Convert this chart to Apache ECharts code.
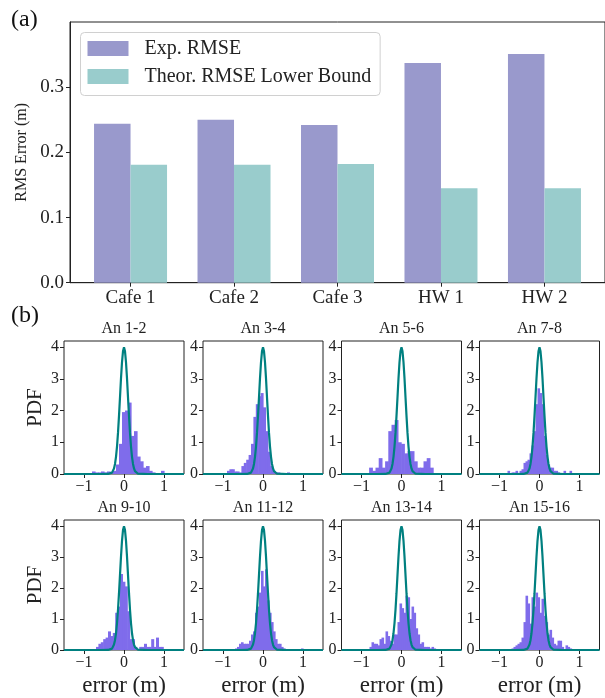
<!DOCTYPE html>
<html><head><meta charset="utf-8">
<script src="https://cdn.jsdelivr.net/npm/echarts@6/dist/echarts.min.js"></script>
<style>html,body{margin:0;padding:0;background:#fff}#c{width:605px;height:698px}</style>
</head><body><div id="c"></div>
<script>
// ---------- data (a) ----------
const categories = ['Cafe 1', 'Cafe 2', 'Cafe 3', 'HW 1', 'HW 2'];
const expRMSE = [0.244, 0.250, 0.242, 0.337, 0.351];
const theorRMSE = [0.181, 0.181, 0.182, 0.145, 0.145];
const rmsTicks = [0, 0.1, 0.2, 0.3];

// ---------- data (b) ----------
const panelTitles = ['An 1-2', 'An 3-4', 'An 5-6', 'An 7-8', 'An 9-10', 'An 11-12', 'An 13-14', 'An 15-16'];
const pdfTicks = [0, 1, 2, 3, 4];
const errorTicks = [-1, 0, 1];
const binStarts = [-0.8, -0.9, -0.81, -0.85, -0.7, -0.7, -0.85, -0.7];
const binWidths = [0.075, 0.06, 0.08, 0.05, 0.06, 0.05, 0.05, 0.05];
const hist12 = [0.08, 0.05, 0.05, 0.08, 0.05, 0.08, 0.05, 0.1, 0.3, 0.95, 1.95, 2.0, 2.25, 1.2, 1.35, 0.55, 0.4, 0.2, 0.25, 0.1, 0.05, 0, 0, 0.1];
const hist34 = [0.1, 0.15, 0.15, 0.08, 0.08, 0.05, 0.25, 0.35, 0.45, 0.6, 0.95, 1.8, 2.2, 2.45, 2.55, 2.1, 1.35, 0.7, 0.25, 0.1, 0.05, 0.05, 0.03, 0, 0, 0.05];
const hist56 = [0.2, 0.1, 0.2, 0.5, 0.2, 0.4, 1.35, 1.55, 1.7, 1.0, 0.95, 0.65, 0.72, 0.72, 0.4, 0.2, 0.2, 0.4, 0.5, 0.2];
const hist78 = [0, 0.1, 0, 0.05, 0.05, 0.1, 0, 0.1, 0.15, 0.35, 0.4, 0.45, 0.65, 0.9, 1.35, 2.2, 2.7, 2.55, 2.2, 1.2, 0.6, 0.3, 0.2, 0.2, 0.1, 0.1, 0.05, 0, 0, 0.1, 0, 0, 0.1];
const hist910 = [0.1, 0.2, 0.25, 0.35, 0.4, 0.6, 0.45, 0.55, 1.2, 1.4, 2.45, 2.2, 2.05, 1.25, 0.35, 0.35, 0.1, 0, 0.1, 0.1, 0.2, 0.1, 0.1, 0.35, 0.1, 0.4, 0.1, 0.1];
const hist1112 = [0.05, 0.1, 0.2, 0.25, 0.2, 0.2, 0.2, 0.3, 0.5, 0.6, 1.2, 1.4, 1.85, 2.55, 2.05, 2.6, 1.6, 1.2, 0.9, 0.6, 0.35, 0.2, 0.2, 0.1, 0.05, 0, 0, 0, 0, 0, 0, 0, 0, 0.05];
const hist1314 = [0, 0.1, 0.25, 0.2, 0.2, 0.15, 0.35, 0.4, 0.2, 0.6, 0.45, 0.3, 0.2, 0.5, 0.5, 0.9, 1.5, 1.35, 1.2, 1.75, 1.7, 1.0, 1.4, 1.2, 0.7, 0.5, 0.2, 0.25, 0.1, 0.1, 0.1, 0.05, 0.1, 0.05];
const hist1516 = [0.05, 0.1, 0.15, 0.2, 0.25, 0.4, 0.9, 1.75, 1.5, 0.85, 1.7, 1.4, 1.85, 1.7, 1.2, 1.65, 1.1, 0.9, 0.5, 0.65, 0.4, 0.2, 0.15, 0.3, 0.3, 0.1, 0, 0.15, 0.1, 0.05];
const histograms = [hist12, hist34, hist56, hist78, hist910, hist1112, hist1314, hist1516];
// theoretical PDF curve
const pdfCurveX = [-1.5, -0.6, -0.4, -0.35, -0.3, -0.275, -0.25, -0.225, -0.2, -0.175, -0.15, -0.125, -0.1, -0.075, -0.05, -0.025, 0, 0.025, 0.05, 0.075, 0.1, 0.125, 0.15, 0.175, 0.2, 0.225, 0.25, 0.275, 0.3, 0.35, 0.4, 0.6, 1.5];
const pdfCurveY = [0, 0, 0.001, 0.009, 0.044, 0.09, 0.175, 0.317, 0.54, 0.862, 1.295, 1.831, 2.42, 3.015, 3.52, 3.865, 3.989, 3.865, 3.52, 3.015, 2.42, 1.831, 1.295, 0.862, 0.54, 0.317, 0.175, 0.09, 0.044, 0.009, 0.001, 0, 0];

// ---------- layout ----------
const FONT = '"Liberation Serif", "DejaVu Serif", serif';
const INK = '#222';
const colLefts = [64, 203, 341.5, 479.5];
const rowTops = [341, 520];
const pW = 120, pH = 133;
const X_MIN = -1.5, X_MAX = 1.5;

const grids = [{left: 70, top: 22, width: 539.5, height: 260.7, show: true, borderColor: INK, borderWidth: 1, backgroundColor: 'transparent'}];
const xAxes = [{
  gridIndex: 0, type: 'value', min: -0.585, max: 4.585,
  axisLine: {show: true, onZero: false, lineStyle: {color: INK}},
  axisTick: {show: true, length: 4, lineStyle: {color: INK}, customValues: [0, 1, 2, 3, 4]},
  axisLabel: {customValues: [0, 1, 2, 3, 4], formatter: v => categories[Math.round(v)], fontSize: 19, color: INK, fontFamily: FONT, margin: 6},
  splitLine: {show: false}
}];
const yAxes = [{
  gridIndex: 0, type: 'value', min: 0, max: 0.4,
  name: 'RMS Error (m)', nameLocation: 'middle', nameGap: 32,
  nameTextStyle: {fontSize: 16, color: INK, fontFamily: FONT},
  axisLine: {show: true, onZero: false, lineStyle: {color: INK}},
  axisTick: {show: true, length: 4, lineStyle: {color: INK}, customValues: rmsTicks},
  axisLabel: {customValues: rmsTicks, formatter: v => v.toFixed(1), fontSize: 19, color: INK, fontFamily: FONT, margin: 6},
  splitLine: {show: false}
}];
const series = [
  {type: 'bar', name: 'Exp. RMSE', xAxisIndex: 0, yAxisIndex: 0, data: expRMSE.map((v, i) => [i, v]),
   barWidth: 36.5, barGap: '0%', itemStyle: {color: '#9999cc'}},
  {type: 'bar', name: 'Theor. RMSE Lower Bound', xAxisIndex: 0, yAxisIndex: 0, data: theorRMSE.map((v, i) => [i, v]),
   barWidth: 36.5, barGap: '0%', itemStyle: {color: '#99cccc'}}
];
const graphics = [
  {type: 'text', left: 11, top: 8, style: {text: '(a)', font: '24px ' + FONT, fill: '#111'}},
  {type: 'text', left: 11, top: 304, style: {text: '(b)', font: '24px ' + FONT, fill: '#111'}}
];
const minus = v => (v < 0 ? '\u2212' + Math.abs(v) : String(v));

function renderBin(params, api) {
  const p0 = api.coord([api.value(0), api.value(2)]);
  const p1 = api.coord([api.value(1), 0]);
  return {
    type: 'rect',
    shape: {x: p0[0], y: p0[1], width: p1[0] - p0[0] + 0.6, height: p1[1] - p0[1]},
    style: {fill: '#7f6ceb'}
  };
}

for (let p = 0; p < 8; p++) {
  const r = Math.floor(p / 4), c = p % 4;
  const gi = p + 1;
  grids.push({left: colLefts[c], top: rowTops[r], width: pW, height: pH, show: true, borderColor: INK, borderWidth: 1, backgroundColor: 'transparent'});
  xAxes.push({
    gridIndex: gi, type: 'value', min: X_MIN, max: X_MAX,
    name: r === 1 ? 'error (m)' : '', nameLocation: 'middle', nameGap: 24,
    nameTextStyle: {fontSize: 23, color: INK, fontFamily: FONT},
    axisLine: {show: false, onZero: false},
    axisTick: {show: true, length: 4, lineStyle: {color: INK}, customValues: errorTicks},
    axisLabel: {customValues: errorTicks, formatter: minus, fontSize: 16, color: INK, fontFamily: FONT, margin: 5},
    splitLine: {show: false}
  });
  yAxes.push({
    gridIndex: gi, type: 'value', min: 0, max: 4.19,
    name: c === 0 ? 'PDF' : '', nameLocation: 'middle', nameGap: 18,
    nameTextStyle: {fontSize: 21, color: INK, fontFamily: FONT},
    axisLine: {show: false, onZero: false},
    axisTick: {show: true, length: 4, lineStyle: {color: INK}, customValues: pdfTicks},
    axisLabel: {customValues: pdfTicks, fontSize: 16, color: INK, fontFamily: FONT, margin: 5},
    splitLine: {show: false}
  });
  const st = binStarts[p], w = binWidths[p];
  series.push({
    type: 'custom', xAxisIndex: gi, yAxisIndex: gi, silent: true, clip: true,
    renderItem: renderBin,
    encode: {x: [0, 1], y: 2},
    data: histograms[p].map((h, i) => [st + i * w, st + (i + 1) * w, h])
  });
  series.push({
    type: 'line', xAxisIndex: gi, yAxisIndex: gi, silent: true, symbol: 'none', z: 5,
    data: pdfCurveX.map((x, i) => [x, pdfCurveY[i]]),
    lineStyle: {color: '#008080', width: 2.2}
  });
  graphics.push({type: 'text', x: colLefts[c] + pW / 2, y: rowTops[r] - 12,
    style: {text: panelTitles[p], font: '16px ' + FONT, fill: INK, textAlign: 'center', textVerticalAlign: 'middle'}});
}

const chart = echarts.init(document.getElementById('c'), null, {renderer: 'canvas'});
chart.setOption({
  animation: false,
  backgroundColor: '#fff',
  textStyle: {fontFamily: FONT},
  grid: grids, xAxis: xAxes, yAxis: yAxes, series: series,
  legend: {
    data: ['Exp. RMSE', 'Theor. RMSE Lower Bound'], orient: 'vertical', left: 80.5, top: 32.5,
    icon: 'rect', itemWidth: 41, itemHeight: 15, itemGap: 6,
    padding: [5, 9, 8, 7], backgroundColor: 'rgba(255,255,255,0.85)', borderColor: '#d0d0d0', borderWidth: 1, borderRadius: 4,
    textStyle: {fontSize: 20, color: INK, fontFamily: FONT, lineHeight: 22, padding: [0, 0, 0, 11]}
  },
  graphic: graphics
});
</script></body></html>
